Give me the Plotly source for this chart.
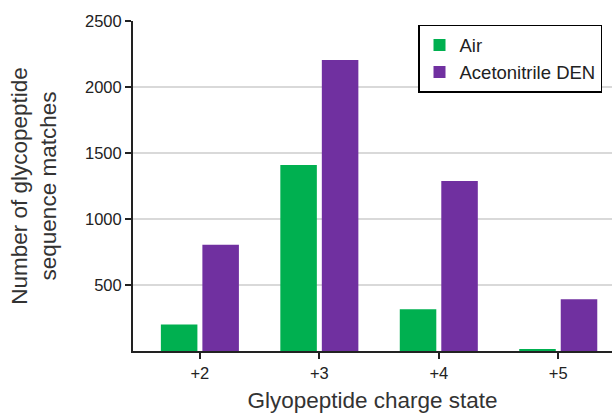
import plotly.graph_objects as go

categories = ["+2", "+3", "+4", "+5"]
air = [200, 1410, 316, 13]
acetonitrile = [805, 2205, 1288, 392]
y_ticks = [500, 1000, 1500, 2000, 2500]

fig = go.Figure()
fig.add_trace(go.Bar(x=categories, y=air, name="Air", marker=dict(color="#00B050", line=dict(width=0))))
fig.add_trace(go.Bar(x=categories, y=acetonitrile, name="Acetonitrile DEN", marker=dict(color="#7030A0", line=dict(width=0))))

font_family = "Liberation Sans, Arial, sans-serif"
fig.update_layout(
    width=613, height=413,
    margin=dict(l=133, r=1, t=21, b=62),
    paper_bgcolor="white", plot_bgcolor="white",
    barmode="group", bargap=0.305, bargroupgap=0.12,
    font=dict(family=font_family, size=16, color="#222"),
    legend=dict(x=0.595, y=0.988, xanchor="left", yanchor="top",
                bordercolor="black", borderwidth=1.5, bgcolor="white",
                font=dict(size=18.5, color="#222"), tracegroupgap=0, itemwidth=30),
    showlegend=True,
)
fig.update_xaxes(
    range=[-0.56, 3.45], showline=True, linecolor="#222", linewidth=2,
    ticks="outside", ticklen=6, tickwidth=2, tickcolor="#222",
    tickfont=dict(size=16.5),
    title=dict(text="Glyopeptide charge state", font=dict(size=22.5, color="#333"), standoff=12),
    showgrid=False, zeroline=False,
)
fig.update_yaxes(
    range=[0, 2500], tickvals=y_ticks, showline=True, linecolor="#222", linewidth=2,
    ticks="outside", ticklen=6, tickwidth=2, tickcolor="#222",
    tickfont=dict(size=16.5),
    showgrid=True, gridcolor="#d9d9d9", gridwidth=1.5, zeroline=False,
    title=dict(text="Number of glycopeptide<br>sequence matches", font=dict(size=22.5, color="#333"), standoff=22),
)
fig.write_html("out.html")
